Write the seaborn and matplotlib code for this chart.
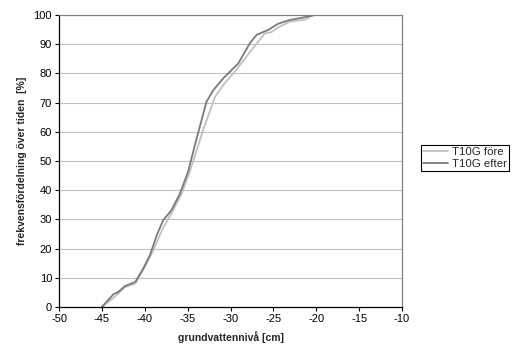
import matplotlib
matplotlib.use("Agg")
import matplotlib.pyplot as plt
import seaborn as sns
import pandas as pd

# groundwater level [cm] and cumulative frequency [%] for each series
fore_x = [-45.0, -43.5, -42.3, -41.1, -40.0, -39.0, -38.0, -36.7, -35.7, -34.7,
          -33.95, -33.2, -31.8, -30.85, -29.5, -27.55, -26.0, -25.2, -24.3, -23.1,
          -21.2, -20.4]
fore_y = [0.0, 3.5, 6.8, 8.0, 13.7, 19.4, 26.3, 33.1, 38.8, 46.8,
          53.7, 60.6, 72.0, 76.0, 80.6, 88.0, 93.7, 94.2, 96.0, 97.7,
          98.5, 100.0]

efter_x = [-45.0, -43.65, -43.07, -42.3, -41.1, -40.17, -39.4, -38.6, -37.85, -36.9,
           -35.9, -34.95, -34.15, -32.8, -32.0, -30.85, -29.1, -27.75, -26.96, -25.6,
           -24.45, -23.1, -21.9, -20.15]
efter_y = [0.0, 4.4, 5.2, 7.2, 8.6, 13.2, 17.7, 24.6, 29.7, 33.1,
           38.8, 46.3, 55.5, 70.3, 74.3, 78.3, 83.4, 90.3, 93.2, 94.9,
           97.0, 98.3, 98.9, 100.0]

series_names = ["T10G före", "T10G efter"]
series_colors = ["#c0c0c0", "#7a7a7a"]

x_ticks = list(range(-50, -9, 5))
y_ticks = list(range(0, 101, 10))

sns.set_theme(style="white")
plt.rcParams["font.family"] = ["Liberation Sans", "DejaVu Sans"]

df = pd.concat([
    pd.DataFrame({"x": fore_x, "y": fore_y, "serie": series_names[0]}),
    pd.DataFrame({"x": efter_x, "y": efter_y, "serie": series_names[1]}),
], ignore_index=True)

fig = plt.figure(figsize=(5.13, 3.58), dpi=100)
ax = fig.add_axes([59 / 513, 1 - 307 / 358, (402 - 59) / 513, (307 - 15) / 358])

sns.lineplot(data=df, x="x", y="y", hue="serie", palette=dict(zip(series_names, series_colors)),
             sort=False, estimator=None, linewidth=1.3, ax=ax)

ax.set_xlim(-50, -10)
ax.set_ylim(0, 100)
ax.set_xticks(x_ticks)
ax.set_yticks(y_ticks)
ax.set_xticklabels([str(t) for t in x_ticks])
ax.set_yticklabels([str(t) for t in y_ticks])
ax.tick_params(axis="both", labelsize=8, colors="black", length=3, width=0.8,
               direction="out", pad=2, bottom=True, left=True)

for yv in y_ticks[1:-1]:
    ax.axhline(yv, color="#c0c0c0", linewidth=0.8, zorder=0)

for side in ["left", "bottom"]:
    ax.spines[side].set_color("black")
    ax.spines[side].set_linewidth(0.9)
for side in ["top", "right"]:
    ax.spines[side].set_color("#808080")
    ax.spines[side].set_linewidth(0.9)

ax.set_xlabel("grundvattennivå [cm]", fontsize=7.5, fontweight="bold", labelpad=5)
ax.set_ylabel("frekvensfördelning över tiden  [%]", fontsize=7.5, fontweight="bold", labelpad=5)

leg = ax.legend(loc="center left", bbox_to_anchor=(1.055, 0.51), fontsize=8.2, frameon=True,
                fancybox=False, edgecolor="black", framealpha=1, handlelength=2.2,
                handletextpad=0.3, borderpad=0.2, labelspacing=0.12, borderaxespad=0)
leg.get_frame().set_linewidth(0.8)

fig.savefig("out.png", dpi=100)
